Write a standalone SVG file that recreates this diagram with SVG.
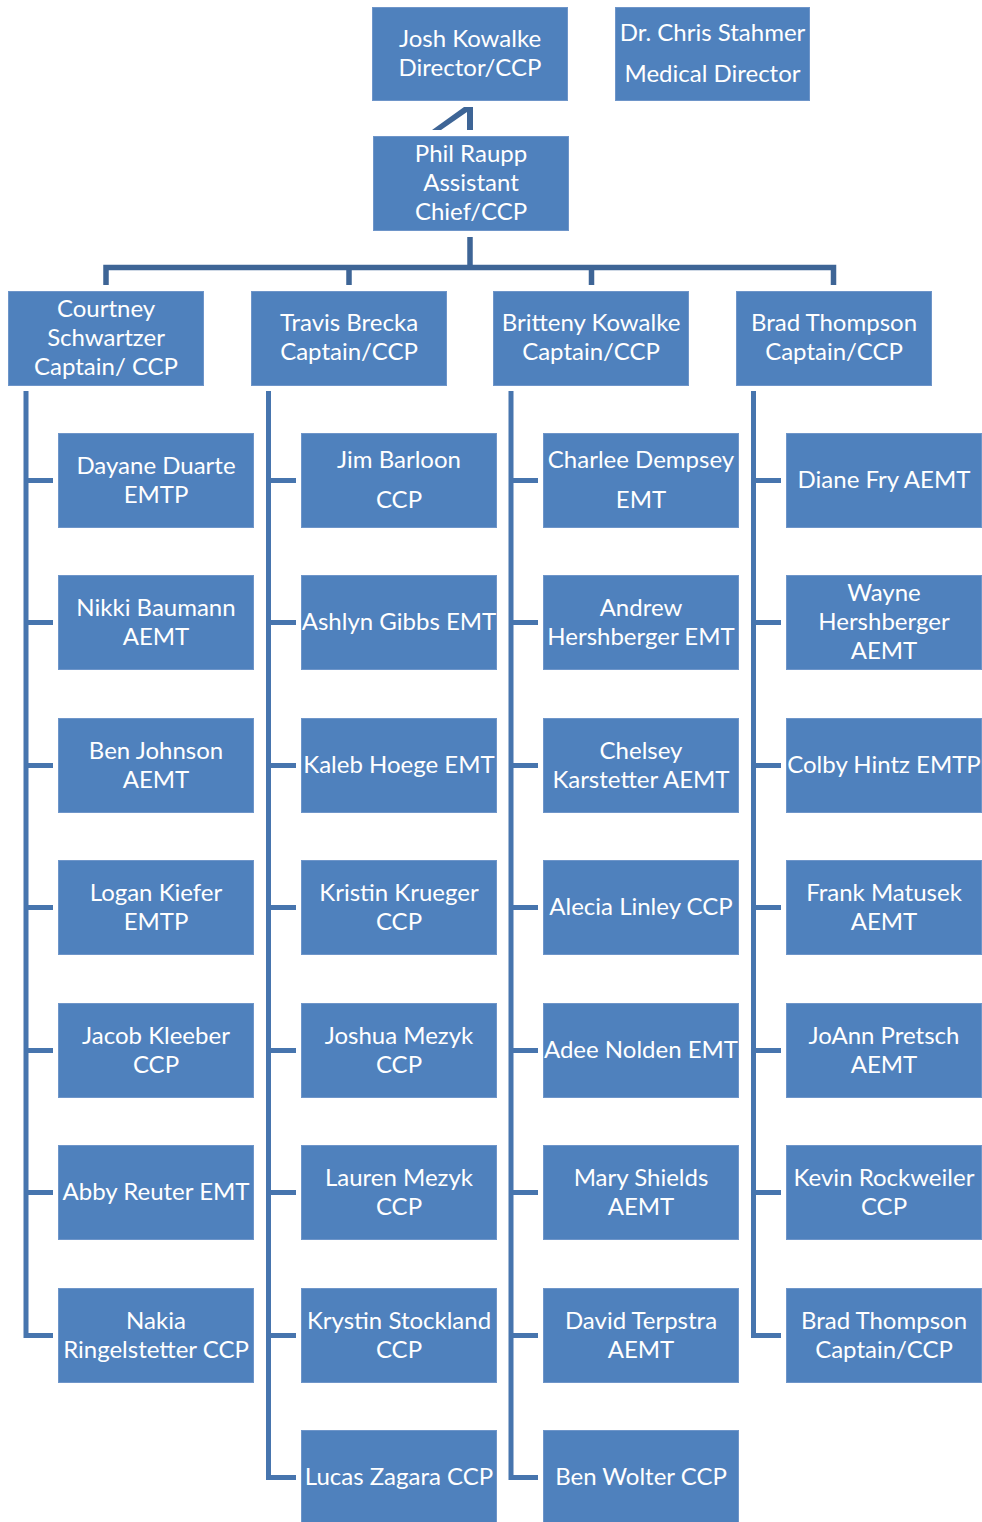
<svg xmlns="http://www.w3.org/2000/svg" width="982" height="1522" viewBox="0 0 982 1522">
<style>
.b{fill:#4F81BD;stroke:#6E95C9;stroke-width:1}
.t{font-family:Lato,"Liberation Sans",sans-serif;font-size:24px;fill:#fff;text-anchor:middle}
.top{fill:none;stroke:#3E6596;stroke-width:5.5}
.tr{fill:none;stroke:#4775AE;stroke-width:5}
</style>
<rect width="982" height="1522" fill="#fff"/>
<g id="connectors">
<polygon points="432,130 441,130 467,112 467,130 473,130 473,107 464,107" fill="#3E6596"/>
<path class="top" d="M470,237 V267.5"/>
<path class="top" d="M106,285 V267.5 H833.5 V285 M349,267.5 V285 M591.5,267.5 V285"/>
<path class="tr" d="M26,391 V1335.5 H53 M26,480.5 H53 M26,622.5 H53 M26,765.5 H53 M26,907.5 H53 M26,1050.5 H53 M26,1192.5 H53"/>
<path class="tr" d="M268.5,391 V1477.5 H296 M268.5,480.5 H296 M268.5,622.5 H296 M268.5,765.5 H296 M268.5,907.5 H296 M268.5,1050.5 H296 M268.5,1192.5 H296 M268.5,1335.5 H296"/>
<path class="tr" d="M511,391 V1477.5 H538 M511,480.5 H538 M511,622.5 H538 M511,765.5 H538 M511,907.5 H538 M511,1050.5 H538 M511,1192.5 H538 M511,1335.5 H538"/>
<path class="tr" d="M753.5,391 V1335.5 H781 M753.5,480.5 H781 M753.5,622.5 H781 M753.5,765.5 H781 M753.5,907.5 H781 M753.5,1050.5 H781 M753.5,1192.5 H781"/>
</g>
<g id="josh"><rect class="b" x="372.5" y="7.5" width="195" height="93"/><text class="t" x="470" y="47">Josh Kowalke</text><text class="t" x="470" y="76">Director/CCP</text></g>
<g id="chris"><rect class="b" x="615.5" y="7.5" width="194" height="93"/><text class="t" x="712.5" y="41">Dr. Chris Stahmer</text><text class="t" x="712.5" y="82">Medical Director</text></g>
<g id="phil"><rect class="b" x="373.5" y="136.5" width="195" height="94"/><text class="t" x="471" y="162">Phil Raupp</text><text class="t" x="471" y="191">Assistant</text><text class="t" x="471" y="220">Chief/CCP</text></g>
<g id="courtney"><rect class="b" x="8.5" y="291.5" width="195" height="94"/><text class="t" x="106" y="317">Courtney</text><text class="t" x="106" y="346">Schwartzer</text><text class="t" x="106" y="375">Captain/ CCP</text></g>
<g id="travis"><rect class="b" x="251.5" y="291.5" width="195" height="94"/><text class="t" x="349" y="331">Travis Brecka</text><text class="t" x="349" y="360">Captain/CCP</text></g>
<g id="britteny"><rect class="b" x="493.5" y="291.5" width="195" height="94"/><text class="t" x="591" y="331">Britteny Kowalke</text><text class="t" x="591" y="360">Captain/CCP</text></g>
<g id="bradcap"><rect class="b" x="736.5" y="291.5" width="195" height="94"/><text class="t" x="834" y="331">Brad Thompson</text><text class="t" x="834" y="360">Captain/CCP</text></g>

<g id="dayane"><rect class="b" x="58.5" y="433.5" width="195" height="94"/><text class="t" x="156" y="474">Dayane Duarte</text><text class="t" x="156" y="503">EMTP</text></g>
<g id="nikki"><rect class="b" x="58.5" y="575.5" width="195" height="94"/><text class="t" x="156" y="616">Nikki Baumann</text><text class="t" x="156" y="645">AEMT</text></g>
<g id="benj"><rect class="b" x="58.5" y="718.5" width="195" height="94"/><text class="t" x="156" y="759">Ben Johnson</text><text class="t" x="156" y="788">AEMT</text></g>
<g id="logan"><rect class="b" x="58.5" y="860.5" width="195" height="94"/><text class="t" x="156" y="901">Logan Kiefer</text><text class="t" x="156" y="930">EMTP</text></g>
<g id="jacob"><rect class="b" x="58.5" y="1003.5" width="195" height="94"/><text class="t" x="156" y="1044">Jacob Kleeber</text><text class="t" x="156" y="1073">CCP</text></g>
<g id="abby"><rect class="b" x="58.5" y="1145.5" width="195" height="94"/><text class="t" x="156" y="1200">Abby Reuter EMT</text></g>
<g id="nakia"><rect class="b" x="58.5" y="1288.5" width="195" height="94"/><text class="t" x="156" y="1329">Nakia</text><text class="t" x="156" y="1358">Ringelstetter CCP</text></g>

<g id="jim"><rect class="b" x="301.5" y="433.5" width="195" height="94"/><text class="t" x="399" y="468">Jim Barloon</text><text class="t" x="399" y="508">CCP</text></g>
<g id="ashlyn"><rect class="b" x="301.5" y="575.5" width="195" height="94"/><text class="t" x="399" y="630">Ashlyn Gibbs EMT</text></g>
<g id="kaleb"><rect class="b" x="301.5" y="718.5" width="195" height="94"/><text class="t" x="399" y="773">Kaleb Hoege EMT</text></g>
<g id="kristin"><rect class="b" x="301.5" y="860.5" width="195" height="94"/><text class="t" x="399" y="901">Kristin Krueger</text><text class="t" x="399" y="930">CCP</text></g>
<g id="joshua"><rect class="b" x="301.5" y="1003.5" width="195" height="94"/><text class="t" x="399" y="1044">Joshua Mezyk</text><text class="t" x="399" y="1073">CCP</text></g>
<g id="lauren"><rect class="b" x="301.5" y="1145.5" width="195" height="94"/><text class="t" x="399" y="1186">Lauren Mezyk</text><text class="t" x="399" y="1215">CCP</text></g>
<g id="krystin"><rect class="b" x="301.5" y="1288.5" width="195" height="94"/><text class="t" x="399" y="1329">Krystin Stockland</text><text class="t" x="399" y="1358">CCP</text></g>
<g id="lucas"><rect class="b" x="301.5" y="1430.5" width="195" height="94"/><text class="t" x="399" y="1485">Lucas Zagara CCP</text></g>

<g id="charlee"><rect class="b" x="543.5" y="433.5" width="195" height="94"/><text class="t" x="641" y="468">Charlee Dempsey</text><text class="t" x="641" y="508">EMT</text></g>
<g id="andrew"><rect class="b" x="543.5" y="575.5" width="195" height="94"/><text class="t" x="641" y="616">Andrew</text><text class="t" x="641" y="645">Hershberger EMT</text></g>
<g id="chelsey"><rect class="b" x="543.5" y="718.5" width="195" height="94"/><text class="t" x="641" y="759">Chelsey</text><text class="t" x="641" y="788">Karstetter AEMT</text></g>
<g id="alecia"><rect class="b" x="543.5" y="860.5" width="195" height="94"/><text class="t" x="641" y="915">Alecia Linley CCP</text></g>
<g id="adee"><rect class="b" x="543.5" y="1003.5" width="195" height="94"/><text class="t" x="641" y="1058">Adee Nolden EMT</text></g>
<g id="mary"><rect class="b" x="543.5" y="1145.5" width="195" height="94"/><text class="t" x="641" y="1186">Mary Shields</text><text class="t" x="641" y="1215">AEMT</text></g>
<g id="david"><rect class="b" x="543.5" y="1288.5" width="195" height="94"/><text class="t" x="641" y="1329">David Terpstra</text><text class="t" x="641" y="1358">AEMT</text></g>
<g id="benw"><rect class="b" x="543.5" y="1430.5" width="195" height="94"/><text class="t" x="641" y="1485">Ben Wolter CCP</text></g>

<g id="diane"><rect class="b" x="786.5" y="433.5" width="195" height="94"/><text class="t" x="884" y="488">Diane Fry AEMT</text></g>
<g id="wayne"><rect class="b" x="786.5" y="575.5" width="195" height="94"/><text class="t" x="884" y="601">Wayne</text><text class="t" x="884" y="630">Hershberger</text><text class="t" x="884" y="659">AEMT</text></g>
<g id="colby"><rect class="b" x="786.5" y="718.5" width="195" height="94"/><text class="t" x="884" y="773">Colby Hintz EMTP</text></g>
<g id="frank"><rect class="b" x="786.5" y="860.5" width="195" height="94"/><text class="t" x="884" y="901">Frank Matusek</text><text class="t" x="884" y="930">AEMT</text></g>
<g id="joann"><rect class="b" x="786.5" y="1003.5" width="195" height="94"/><text class="t" x="884" y="1044">JoAnn Pretsch</text><text class="t" x="884" y="1073">AEMT</text></g>
<g id="kevin"><rect class="b" x="786.5" y="1145.5" width="195" height="94"/><text class="t" x="884" y="1186">Kevin Rockweiler</text><text class="t" x="884" y="1215">CCP</text></g>
<g id="bradchild"><rect class="b" x="786.5" y="1288.5" width="195" height="94"/><text class="t" x="884" y="1329">Brad Thompson</text><text class="t" x="884" y="1358">Captain/CCP</text></g>
</svg>
